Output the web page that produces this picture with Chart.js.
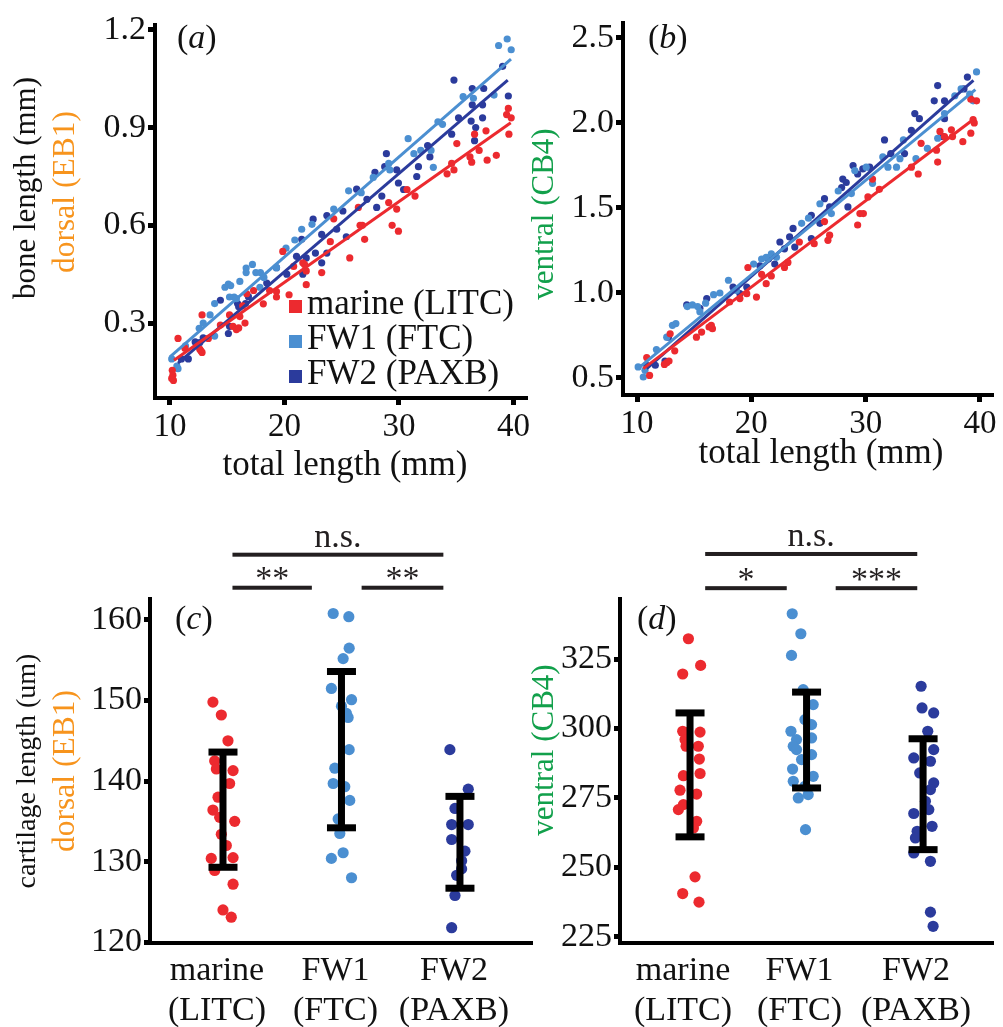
<!DOCTYPE html>
<html><head><meta charset="utf-8">
<script src="https://cdn.jsdelivr.net/npm/chart.js@4.4.1/dist/chart.umd.min.js"></script>
<style>
html,body{margin:0;padding:0;background:#fff;}
#wrap{position:relative;width:1003px;height:1027px;background:#fff;overflow:hidden;}
#wrap canvas{position:absolute;left:0;top:0;width:1003px;height:1027px;}
</style></head><body><div id="wrap">
<canvas id="ca" width="1003" height="1027"></canvas>
<canvas id="cb" width="1003" height="1027"></canvas>
<canvas id="cc" width="1003" height="1027"></canvas>
<canvas id="cd" width="1003" height="1027"></canvas>
</div>
<script>
// ---------------- DATA ----------------
const groups = ['marine (LITC)', 'FW1 (FTC)', 'FW2 (PAXB)'];
const groupLabels = [['marine', '(LITC)'], ['FW1', '(FTC)'], ['FW2', '(PAXB)']];
const groupPos = [1, 2, 3];

const xTicksAB = [10, 20, 30, 40];
const yTicksA = [0.3, 0.6, 0.9, 1.2];
const yTicksB = [0.5, 1.0, 1.5, 2.0, 2.5];
const yTicksC = [120, 130, 140, 150, 160];
const yTicksD = [225, 250, 275, 300, 325];

// (a) dorsal EB1 bone length vs total length
const aRedX = [10.2,10.25,10.3,10.15,10.7,11.3,12.8,12.6,12.8,12.7,13.35,14.4,15.2,15.5,15.8,16.0,16.55,16.1,16.35,16.7,17.3,18.15,18.7,19.3,19.3,19.85,20.4,20.8,21.6,21.75,21.9,21.9,23.25,24.0,24.3,25.7,26.45,26.6,26.8,27.0,29.1,29.4,29.8,29.95,30.7,31.4,34.2,34.6,34.8,35.05,36.2,36.35,36.6,37.0,37.6,37.7,38.5,39.4,39.55,39.6,39.8];
const aRedY = [0.155,0.14,0.124,0.13,0.253,0.223,0.325,0.22,0.21,0.215,0.253,0.294,0.325,0.29,0.28,0.285,0.30,0.32,0.353,0.39,0.40,0.359,0.40,0.397,0.38,0.52,0.387,0.474,0.485,0.48,0.418,0.46,0.455,0.55,0.62,0.50,0.655,0.60,0.60,0.557,0.67,0.60,0.65,0.582,0.71,0.69,0.758,0.79,0.77,0.851,0.81,0.794,0.88,0.83,0.89,0.80,0.815,0.94,0.959,0.88,0.93];
const aFw1X = [10.15,10.6,10.7,11.35,12.55,12.9,13.5,13.9,13.9,14.8,15.1,15.3,15.2,15.6,15.8,16.1,16.65,16.65,17.2,17.5,17.9,18.2,17.85,19.3,20.13,20.9,21.5,22.4,24.3,25.6,26.7,27.75,29.1,29.2,30.8,31.3,31.9,32.8,33.0,33.4,33.8,35.6,36.5,38.3,38.7,39.45,39.8];
const aFw1Y = [0.19,0.168,0.16,0.23,0.284,0.30,0.325,0.36,0.26,0.41,0.42,0.415,0.38,0.38,0.375,0.428,0.469,0.455,0.48,0.455,0.455,0.44,0.41,0.47,0.53,0.555,0.588,0.603,0.65,0.706,0.70,0.747,0.79,0.77,0.866,0.82,0.83,0.83,0.778,0.918,0.91,0.995,0.99,1.0,1.152,1.172,1.139];
const aFw2X = [11.0,11.6,12.2,12.6,12.9,14.4,15.1,15.2,15.9,16.0,16.85,16.6,18.45,19.3,20.2,21.05,21.5,21.6,21.9,22.5,22.7,23.25,23.25,23.7,23.7,24.56,25.1,25.4,26.3,27.2,27.9,28.05,28.5,28.9,28.75,29.8,29.95,30.4,31.55,31.7,32.5,32.7,34.6,34.8,35.2,36.3,36.4,36.4,36.6,36.7,37.3,37.3,37.4,39.05,39.55];
const aFw2Y = [0.19,0.19,0.242,0.24,0.255,0.37,0.268,0.29,0.36,0.35,0.381,0.36,0.423,0.47,0.45,0.505,0.557,0.45,0.50,0.619,0.515,0.572,0.485,0.63,0.515,0.588,0.644,0.565,0.711,0.68,0.763,0.655,0.69,0.82,0.78,0.77,0.73,0.71,0.75,0.78,0.845,0.81,0.88,1.046,0.93,0.92,1.02,0.97,0.86,0.90,0.97,0.93,1.02,1.088,0.997];
const aRedFitX = [10.35, 39.76], aRedFitY = [0.186, 0.915];
const aFw1FitX = [10.0, 39.78], aFw1FitY = [0.196, 1.110];
const aFw2FitX = [10.7, 39.5], aFw2FitY = [0.177, 1.046];

// (b) ventral CB4 bone length vs total length
const bRedX = [10.85,11.1,12.9,12.4,12.6,12.8,13.3,15.2,15.65,16.3,16.6,16.5,18.1,19.0,19.6,19.7,20.45,21.3,20.9,21.75,22.9,23.2,24.2,25.5,26.4,26.7,26.85,29.3,29.5,29.8,30.2,30.6,31.2,34.0,34.6,34.85,36.2,36.3,36.5,36.9,37.5,37.6,38.5,39.2,39.4,39.5,39.7,39.2];
const bRedY = [0.62,0.515,0.76,0.58,0.59,0.60,0.66,0.74,0.77,0.80,0.79,0.81,0.947,0.967,0.996,1.15,0.976,1.055,1.11,1.10,1.15,1.18,1.30,1.29,1.42,1.31,1.34,1.40,1.467,1.467,1.565,1.67,1.61,1.74,1.70,1.88,1.84,1.77,1.95,1.92,1.96,1.92,1.89,1.94,2.02,2.0,2.13,2.14];
const bFw1X = [10.1,10.55,10.7,11.7,12.6,13.1,13.4,14.4,14.85,15.3,16.0,15.5,16.7,17.25,18.0,18.7,20.2,20.9,21.3,21.75,22.2,24.4,25.0,26.0,27.0,27.6,28.75,29.05,30.05,30.6,31.5,31.95,32.7,33.0,33.3,34.4,35.4,36.3,36.9,37.8,38.35,39.1,39.4,39.7];
const bFw1Y = [0.565,0.506,0.545,0.667,0.74,0.81,0.82,0.92,0.93,0.92,0.94,0.89,0.99,1.0,1.075,1.015,1.17,1.20,1.21,1.23,1.21,1.41,1.44,1.525,1.467,1.60,1.585,1.72,1.74,1.645,1.80,1.74,1.74,1.79,1.90,1.79,1.85,1.91,2.055,2.16,2.20,2.17,2.13,2.30];
const bFw2X = [10.85,11.6,12.45,12.75,14.35,15.5,16.1,18.4,19.0,19.6,20.75,21.5,22.05,22.5,22.9,23.35,23.65,23.8,25.25,25.25,26.0,26.4,26.85,27.9,28.0,28.3,28.45,28.9,29.3,29.75,30.35,31.65,32.2,33.4,34.0,34.3,34.7,36.0,36.3,36.9,36.9,36.75,38.9,38.6];
const bFw2Y = [0.575,0.575,0.60,0.74,0.93,0.91,0.967,1.035,0.996,1.035,1.16,1.20,1.17,1.30,1.26,1.33,1.38,1.27,1.457,1.32,1.41,1.555,1.506,1.62,1.67,1.65,1.506,1.75,1.70,1.73,1.74,1.90,1.82,1.82,1.957,2.055,2.025,2.13,2.22,2.13,2.025,1.92,2.27,2.20];
const bRedFitX = [10.55, 39.5], bRedFitY = [0.555, 2.025];
const bFw1FitX = [10.26, 39.6], bFw1FitY = [0.565, 2.196];
const bFw2FitX = [10.85, 39.43], bFw2FitY = [0.555, 2.25];

// (c) dorsal EB1 cartilage length (um); jitter = horizontal offset from group centre
const cRedY = [149.8,148.2,145.0,142.5,141.5,141.3,139.7,138.0,136.4,135.5,135.0,133.4,132.0,130.4,130.5,128.9,127.2,124.0,123.1];
const cRedJ = [-0.085,-0.014,0.042,-0.070,-0.056,0.085,0.056,-0.042,-0.085,-0.028,0.099,-0.014,0.028,-0.099,0.085,-0.070,0.085,0.0,0.070];
const cFw1Y = [160.8,160.4,156.5,155.2,151.5,150.1,149.3,148.4,147.9,143.9,141.6,139.7,139.3,137.6,135.3,133.5,131.1,130.4,128.0];
const cFw1J = [-0.070,0.062,0.065,0.014,-0.085,0.085,0.0,0.042,0.056,0.065,-0.056,-0.070,0.028,0.070,-0.028,-0.014,0.014,-0.085,0.085];
const cFw2Y = [143.9,139.0,136.6,134.6,134.6,132.75,131.3,130.1,129.1,128.3,125.8,121.8];
const cFw2J = [-0.085,0.070,-0.042,-0.070,0.070,-0.070,0.042,0.014,0.014,-0.028,-0.042,-0.070];
const cMean = [136.45, 143.9, 132.4];
const cSD = [7.15, 9.7, 5.7];
const cBracketLevels = [164.0, 168.1];
const cBrackets = [[1.08, 1.75, 0, '**'], [2.17, 2.86, 0, '**'], [1.08, 2.86, 1, 'n.s.']];

// (d) ventral CB4 cartilage length (um)
const dRedY = [332.3,322.7,319.6,299.0,298.4,298.7,296.0,293.6,293.6,289.0,283.0,283.8,277.8,276.4,272.6,270.8,266.6,264.2,246.6,240.6,237.5];
const dRedJ = [-0.014,0.091,-0.063,-0.063,-0.029,0.086,-0.043,-0.034,0.071,0.080,-0.057,0.086,-0.086,0.057,-0.057,-0.100,0.057,0.029,0.043,-0.063,0.077];
const dFw1Y = [341.3,334.1,326.3,314.0,308.6,303.2,301.4,299.0,296.0,296.6,293.6,292.4,290.6,288.8,285.4,282.8,281.0,279.2,275.0,276.2,263.6];
const dFw1J = [-0.123,-0.049,-0.129,-0.029,0.057,-0.014,0.043,-0.134,-0.086,0.043,-0.114,-0.086,0.043,-0.043,-0.120,0.057,-0.114,-0.014,-0.071,0.014,-0.009];
const dFw2Y = [315.2,307.4,305.6,299.0,292.4,289.4,288.2,284.0,280.4,278.0,273.8,270.8,269.4,264.8,263.0,260.6,255.2,252.2,233.9,228.8];
const dFw2J = [-0.017,-0.009,0.091,0.040,0.091,-0.080,0.063,-0.029,0.091,0.063,0.020,0.049,-0.080,0.077,-0.051,-0.066,-0.080,0.063,0.063,0.086];
const dMean = [283.3, 295.85, 276.35];
const dSD = [22.3, 17.25, 19.95];
const dBracketLevels = [350.5, 362.8];
const dBrackets = [[1.13, 1.83, 0, '*'], [2.25, 2.95, 0, '***'], [1.13, 2.95, 1, 'n.s.']];

// ---------------- STYLE ----------------
const SERIF = "'Liberation Serif','Times New Roman',Times,serif";
const RED = '#EC2A2F', LBLUE = '#4B8FD1', DBLUE = '#2B3B9C';
const ORANGE = '#F7941D', GREEN = '#12A04B', INK = '#111111';
const groupColors = [RED, LBLUE, DBLUE];
const W = 1003, H = 1027, YW = 100;

function pts(xs, ys) { const n = Math.min(xs.length, ys.length); const o = []; for (let i = 0; i < n; i++) o.push({x: xs[i], y: ys[i]}); return o; }
function jit(c, js, ys) { const n = Math.min(js.length, ys.length); const o = []; for (let i = 0; i < n; i++) o.push({x: c + js[i], y: ys[i]}); return o; }
function ptDs(data, color, r) { return {type: 'scatter', data, backgroundColor: color, borderWidth: 0, pointRadius: r, pointHoverRadius: r, order: 1, clip: false}; }
function lineDs(xs, ys, color) { return {type: 'line', data: pts(xs, ys), borderColor: color, borderWidth: 3, pointRadius: 0, fill: false, tension: 0, order: 0, clip: false}; }

function axis(pos, min, max, vals, fmt, o) {
  return {
    type: 'linear', position: pos, min, max,
    afterBuildTicks: s => { s.ticks = vals.map(v => ({value: v})); },
    afterFit: s => {
      if (pos === 'left') { s.width = YW; s.paddingTop = 0; s.paddingBottom = 0; }
      else { s.height = o.h; s.paddingLeft = 0; s.paddingRight = 0; }
    },
    border: {display: true, color: '#000', width: 4},
    grid: {display: true, drawOnChartArea: false, drawTicks: o.tl > 0, tickLength: o.tl || 0, tickWidth: 5, tickColor: '#000', color: 'rgba(0,0,0,0)'},
    ticks: {color: INK, font: {family: SERIF, size: o.size, lineHeight: 1.18}, padding: o.pad, labelOffset: o.lo || 0,
            autoSkip: false, maxRotation: 0, minRotation: 0, callback: fmt}
  };
}

function drawText(ctx, t) {
  ctx.save();
  ctx.translate(t.x, t.y);
  if (t.rot) ctx.rotate(t.rot * Math.PI / 180);
  const segs = Array.isArray(t.text) ? t.text : [{s: t.text}];
  const fontOf = sg => (sg.it ? 'italic ' : '') + t.size + 'px ' + SERIF;
  let w = 0;
  segs.forEach(sg => { ctx.font = fontOf(sg); sg.w = ctx.measureText(sg.s).width; w += sg.w; });
  let x0 = t.align === 'center' ? -w / 2 : 0;
  ctx.fillStyle = t.color || INK; ctx.textBaseline = 'alphabetic'; ctx.textAlign = 'left';
  segs.forEach(sg => { ctx.font = fontOf(sg); ctx.fillText(sg.s, x0, 0); x0 += sg.w; });
  ctx.restore();
}

function makeDecor(cfg) {
  return {
    id: 'decor',
    afterDraw(chart) {
      const ctx = chart.ctx, xs = chart.scales.x, ys = chart.scales.y;
      ctx.save();
      if (cfg.mean) {
        ctx.fillStyle = '#000';
        cfg.mean.forEach((m, i) => {
          const x = xs.getPixelForValue(groupPos[i]);
          const yt = ys.getPixelForValue(m + cfg.sd[i]), yb = ys.getPixelForValue(m - cfg.sd[i]);
          ctx.fillRect(x - 3.5, yt, 7, yb - yt);
          ctx.fillRect(x - 14.5, yt - 3.5, 29, 7);
          ctx.fillRect(x - 14.5, yb - 3.5, 29, 7);
        });
      }
      if (cfg.brackets) {
        cfg.brackets.forEach(b => {
          const x1 = xs.getPixelForValue(b[0]), x2 = xs.getPixelForValue(b[1]);
          const y = ys.getPixelForValue(cfg.levels[b[2]]);
          ctx.fillStyle = '#231F20';
          ctx.fillRect(x1, y - 2, x2 - x1, 4);
          ctx.font = '34px ' + SERIF; ctx.textAlign = 'center'; ctx.textBaseline = 'alphabetic';
          const m = ctx.measureText(b[3]);
          ctx.fillText(b[3], (x1 + x2) / 2, y - 7.5 - m.actualBoundingBoxDescent);
        });
      }
      if (cfg.legend) {
        const L = cfg.legend;
        groups.forEach((g, i) => {
          const by = L.y0 + i * L.dy;
          ctx.fillStyle = groupColors[i];
          ctx.fillRect(L.x, by - 14, 13, 13);
          drawText(ctx, {text: g, x: L.tx, y: by, size: L.size});
        });
      }
      (cfg.texts || []).forEach(t => drawText(ctx, t));
      ctx.restore();
    }
  };
}

function opts(pad, x, y) {
  return {responsive: false, animation: false, events: [],
    layout: {padding: pad},
    plugins: {legend: {display: false}, tooltip: {enabled: false}, title: {display: false}},
    scales: {x, y}};
}
function padFor(L, T, R, B, xh) { return {left: L - YW, top: T, right: W - R, bottom: H - B - xh}; }
const f1 = v => Number(v).toFixed(1);
const f0 = v => String(v);
const catLab = v => groupLabels[Math.round(v) - 1] || '';
const panelLab = c => [{s: '('}, {s: c, it: true}, {s: ')'}];

// (a)
new Chart(document.getElementById('ca'), {
  type: 'scatter',
  data: {datasets: [
    lineDs(aRedFitX, aRedFitY, RED), lineDs(aFw1FitX, aFw1FitY, LBLUE), lineDs(aFw2FitX, aFw2FitY, DBLUE),
    ptDs(pts(aRedX, aRedY), RED, 3.6), ptDs(pts(aFw1X, aFw1Y), LBLUE, 3.6), ptDs(pts(aFw2X, aFw2Y), DBLUE, 3.6)]},
  options: opts(padFor(155, 25, 527, 398, 60),
    axis('bottom', 8.69, 41.18, xTicksAB, f0, {size: 33, tl: 7, pad: 3, h: 60}),
    axis('left', 0.070, 1.215, yTicksA, f1, {size: 34, tl: 7, pad: 2})),
  plugins: [makeDecor({
    legend: {x: 289, tx: 307, y0: 314, dy: 35, size: 35},
    texts: [
      {text: panelLab('a'), x: 177, y: 48, size: 34},
      {text: 'bone length (mm)', x: 35, y: 188, rot: -90, align: 'center', size: 31},
      {text: 'dorsal (EB1)', x: 74, y: 192, rot: -90, align: 'center', size: 31.5, color: ORANGE},
      {text: 'total length (mm)', x: 345, y: 475, align: 'center', size: 35}
    ]})]
});

// (b)
new Chart(document.getElementById('cb'), {
  type: 'scatter',
  data: {datasets: [
    lineDs(bRedFitX, bRedFitY, RED), lineDs(bFw1FitX, bFw1FitY, LBLUE), lineDs(bFw2FitX, bFw2FitY, DBLUE),
    ptDs(pts(bRedX, bRedY), RED, 3.6), ptDs(pts(bFw1X, bFw1Y), LBLUE, 3.6), ptDs(pts(bFw2X, bFw2Y), DBLUE, 3.6)]},
  options: opts(padFor(623, 23, 993, 395, 60),
    axis('bottom', 8.775, 41.14, xTicksAB, f0, {size: 33, tl: 7, pad: 3, h: 60}),
    axis('left', 0.40, 2.588, yTicksB, f1, {size: 34, tl: 7, pad: 2})),
  plugins: [makeDecor({
    texts: [
      {text: panelLab('b'), x: 648, y: 48, size: 34},
      {text: 'ventral (CB4)', x: 553, y: 214, rot: -90, align: 'center', size: 31, color: GREEN},
      {text: 'total length (mm)', x: 821, y: 463, align: 'center', size: 35}
    ]})]
});

// (c)
new Chart(document.getElementById('cc'), {
  type: 'scatter',
  data: {datasets: [
    ptDs(jit(groupPos[0], cRedJ, cRedY), RED, 5.6), ptDs(jit(groupPos[1], cFw1J, cFw1Y), LBLUE, 5.6), ptDs(jit(groupPos[2], cFw2J, cFw2Y), DBLUE, 5.6)]},
  options: opts(padFor(150, 599, 532, 943, 84),
    axis('bottom', 0.384, 3.608, groupPos, catLab, {size: 34, tl: 0, pad: 8, lo: -6, h: 84}),
    axis('left', 119.9, 162.6, yTicksC, f0, {size: 34, tl: 6, pad: 2})),
  plugins: [makeDecor({
    mean: cMean, sd: cSD, brackets: cBrackets, levels: cBracketLevels,
    texts: [
      {text: panelLab('c'), x: 175, y: 629, size: 34},
      {text: 'cartilage length (um)', x: 35, y: 771, rot: -90, align: 'center', size: 28},
      {text: 'dorsal (EB1)', x: 74, y: 771, rot: -90, align: 'center', size: 31.5, color: ORANGE}
    ]})]
});

// (d)
new Chart(document.getElementById('cd'), {
  type: 'scatter',
  data: {datasets: [
    ptDs(jit(groupPos[0], dRedJ, dRedY), RED, 5.6), ptDs(jit(groupPos[1], dFw1J, dFw1Y), LBLUE, 5.6), ptDs(jit(groupPos[2], dFw2J, dFw2Y), DBLUE, 5.6)]},
  options: opts(padFor(620, 599, 993, 943, 84),
    axis('bottom', 0.399, 3.60, groupPos, catLab, {size: 34, tl: 0, pad: 8, lo: -7, h: 84}),
    axis('left', 222.8, 346.6, yTicksD, f0, {size: 34, tl: 6, pad: 2})),
  plugins: [makeDecor({
    mean: dMean, sd: dSD, brackets: dBrackets, levels: dBracketLevels,
    texts: [
      {text: panelLab('d'), x: 637, y: 629, size: 34},
      {text: 'ventral (CB4)', x: 553, y: 750, rot: -90, align: 'center', size: 31, color: GREEN}
    ]})]
});
</script></body></html>
